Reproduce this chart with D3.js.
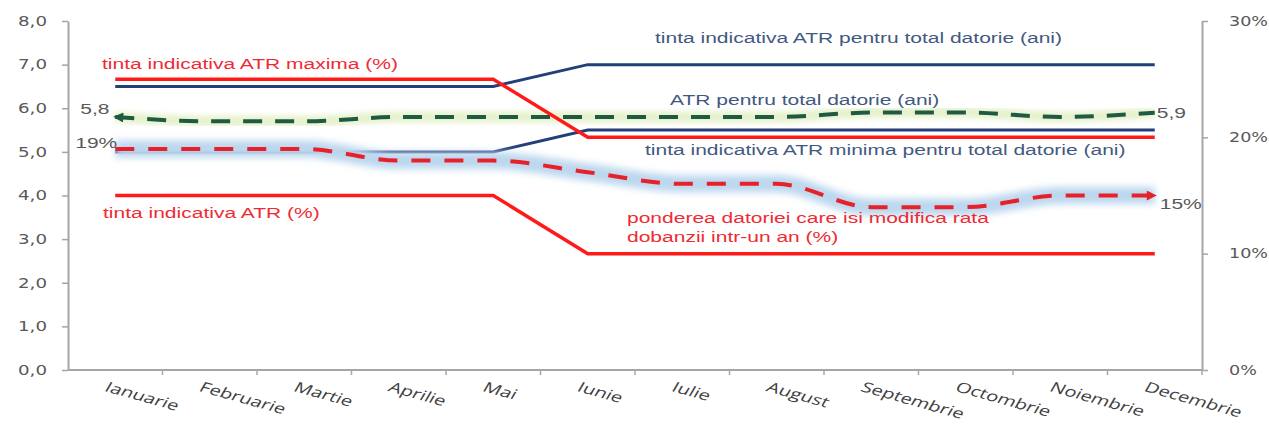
<!DOCTYPE html>
<html>
<head>
<meta charset="utf-8">
<script src="https://cdn.jsdelivr.net/npm/d3@7"></script>
<style>
  body { margin: 0; background: #fff; }
  svg { display: block; }
</style>
</head>
<body>
<svg id="chart" width="1269" height="425"></svg>
<script>
// Months on the category axis
const months = ["Ianuarie", "Februarie", "Martie", "Aprilie", "Mai", "Iunie",
                "Iulie", "August", "Septembrie", "Octombrie", "Noiembrie", "Decembrie"];

// Left axis (years) ticks and right axis (percent) ticks
const leftTicks = [0, 1, 2, 3, 4, 5, 6, 7, 8];
const rightTicks = [0, 10, 20, 30];

// Series on the left axis, in years
const tintaAtrTotal = [6.5, 6.5, 6.5, 6.5, 6.5, 7.0, 7.0, 7.0, 7.0, 7.0, 7.0, 7.0];
const tintaAtrMinTotal = [5.0, 5.0, 5.0, 5.0, 5.0, 5.5, 5.5, 5.5, 5.5, 5.5, 5.5, 5.5];
const atrTotal = [5.8, 5.7, 5.7, 5.8, 5.8, 5.8, 5.8, 5.8, 5.9, 5.9, 5.8, 5.9];

// Series on the right axis, in percent
const tintaAtrMax = [25, 25, 25, 25, 25, 20, 20, 20, 20, 20, 20, 20];
const tintaAtr = [15, 15, 15, 15, 15, 10, 10, 10, 10, 10, 10, 10];
const ponderea = [19, 19, 19, 18, 18, 17, 16, 16, 14, 14, 15, 15];

const SX = 1.5;              // horizontal text stretch
const FONT = "'Liberation Sans', Arial, sans-serif";
const AXIS_FONT = "'DejaVu Sans', Verdana, sans-serif";
const RED = "#ff1a1a";
const NAVY = "#223f78";
const GREEN = "#1f5a44";
const LABEL_RED = "#ee2b33";
const LABEL_BLUE = "#42597f";
const GREY_TXT = "#595959";
const AXIS = "#a6a6a6";

const svg = d3.select("#chart");

const x = d3.scaleBand().domain(months).range([68, 1202]);
const cx = m => x(m) + x.bandwidth() / 2;
const yL = d3.scaleLinear().domain([0, 8]).range([370, 21]);
const yR = d3.scaleLinear().domain([0, 30]).range([370, 21]);

function stretch(sel, k = SX) {
  sel.each(function () {
    const w = this.getComputedTextLength();
    this.setAttribute("textLength", w * k);
    this.setAttribute("lengthAdjust", "spacingAndGlyphs");
  });
}

const defs = svg.append("defs");
defs.append("filter").attr("id", "glow").attr("x", "-5%").attr("y", "-50%")
  .attr("width", "110%").attr("height", "200%")
  .append("feGaussianBlur").attr("stdDeviation", 3.5);
defs.append("filter").attr("id", "glowSoft").attr("x", "-5%").attr("y", "-50%")
  .attr("width", "110%").attr("height", "200%")
  .append("feGaussianBlur").attr("stdDeviation", 2.5);

function arrow(id, color) {
  defs.append("marker").attr("id", id)
    .attr("viewBox", "0 0 10 10").attr("refX", 8).attr("refY", 5)
    .attr("markerUnits", "userSpaceOnUse")
    .attr("markerWidth", 13).attr("markerHeight", 10)
    .attr("orient", "auto-start-reverse")
    .append("path").attr("d", "M0,0 L10,5 L0,10 Z").attr("fill", color);
}
arrow("arrowGreen", GREEN);
arrow("arrowRed", "#e8202a");

// Axes
const gL = svg.append("g").attr("transform", "translate(68,0)")
  .call(d3.axisLeft(yL).tickValues(leftTicks).tickSizeInner(6).tickSizeOuter(0).tickPadding(15)
    .tickFormat(d => d.toFixed(1).replace(".", ",")));
const gR = svg.append("g").attr("transform", "translate(1202,0)")
  .call(d3.axisRight(yR).tickValues(rightTicks).tickSizeInner(6).tickSizeOuter(0).tickPadding(21)
    .tickFormat(d => d + "%"));
[gL, gR].forEach(g => {
  g.select(".domain").attr("stroke", AXIS).attr("stroke-width", 2);
  g.selectAll(".tick line").attr("stroke", AXIS).attr("stroke-width", 1.5);
  g.selectAll(".tick text").attr("fill", GREY_TXT).attr("font-family", AXIS_FONT).attr("font-size", 13.5);
});
stretch(gL.selectAll(".tick text"), 1.35);
stretch(gR.selectAll(".tick text"), 1.3);

// Category axis: baseline with ticks between months
const gX = svg.append("g");
gX.append("line").attr("x1", x.range()[0]).attr("x2", x.range()[1])
  .attr("y1", yL(0)).attr("y2", yL(0)).attr("stroke", AXIS).attr("stroke-width", 2);
const bounds = months.map(m => x(m)).concat([x.range()[1]]);
gX.selectAll("line.tk").data(bounds.slice(1)).join("line").attr("class", "tk")
  .attr("x1", d => d).attr("x2", d => d).attr("y1", yL(0)).attr("y2", yL(0) + 5)
  .attr("stroke", AXIS).attr("stroke-width", 1.5);
gX.selectAll("text").data(months).join("text")
  .attr("transform", d => `translate(${cx(d) - 6},${yL(0) + 11}) scale(1.45,1) rotate(22)`)
  .attr("dy", "0.75em")
  .attr("font-family", "'Open Sans', 'Noto Sans', sans-serif")
  .attr("font-size", 14)
  .attr("fill", "#404040")
  .text(d => d);

// Line generators
const lineL = d3.line().x((d, i) => cx(months[i])).y(d => yL(d));
const lineR = d3.line().x((d, i) => cx(months[i])).y(d => yR(d));
const smoothL = d3.line().x((d, i) => cx(months[i])).y(d => yL(d)).curve(d3.curveMonotoneX);
const smoothR = d3.line().x((d, i) => cx(months[i])).y(d => yR(d)).curve(d3.curveMonotoneX);

const plot = svg.append("g").attr("fill", "none");

// Navy target lines (years)
plot.append("path").attr("d", lineL(tintaAtrTotal)).attr("stroke", NAVY).attr("stroke-width", 3);
plot.append("path").attr("d", lineL(tintaAtrMinTotal)).attr("stroke", NAVY).attr("stroke-width", 3);

// ATR total (years) — dashed with soft green glow
plot.append("path").attr("d", smoothL(atrTotal)).attr("stroke", "#e6f2cc")
  .attr("stroke-width", 11).attr("filter", "url(#glowSoft)");
plot.append("path").attr("d", smoothL(atrTotal)).attr("stroke", GREEN)
  .attr("stroke-width", 4).attr("stroke-dasharray", "19,13")
  .attr("marker-start", "url(#arrowGreen)");

// Share of debt repricing within a year (%) — dashed with blue glow
plot.append("path").attr("d", smoothR(ponderea)).attr("stroke", "#bcd7ee")
  .attr("stroke-width", 17).attr("filter", "url(#glow)");
plot.append("path").attr("d", smoothR(ponderea)).attr("stroke", "#e8202a")
  .attr("stroke-width", 4).attr("stroke-dasharray", "19,14")
  .attr("marker-end", "url(#arrowRed)");

// Red target lines (%)
plot.append("path").attr("d", lineR(tintaAtrMax)).attr("stroke", RED).attr("stroke-width", 3.5);
plot.append("path").attr("d", lineR(tintaAtr)).attr("stroke", RED).attr("stroke-width", 3.5);

// Series labels
const labels = [
  { t: "tinta indicativa ATR maxima (%)", x: 102, y: 69, c: LABEL_RED },
  { t: "tinta indicativa ATR (%)", x: 103, y: 218, c: LABEL_RED },
  { t: "tinta indicativa ATR pentru total datorie (ani)", x: 655, y: 43, c: LABEL_BLUE },
  { t: "ATR pentru total datorie (ani)", x: 670, y: 105, c: LABEL_BLUE },
  { t: "tinta indicativa ATR minima pentru total datorie (ani)", x: 645, y: 155, c: LABEL_BLUE },
  { t: "ponderea datoriei care isi modifica rata", x: 627, y: 223, c: LABEL_RED },
  { t: "dobanzii intr-un an (%)", x: 627, y: 242, c: LABEL_RED }
];
const lt = svg.append("g").selectAll("text").data(labels).join("text")
  .attr("x", d => d.x).attr("y", d => d.y).attr("fill", d => d.c)
  .attr("font-family", FONT).attr("font-size", 14).text(d => d.t);
stretch(lt);

// Value labels at the ends of the dashed series
const fmtY = v => v.toFixed(1).replace(".", ",");
const values = [
  { t: fmtY(atrTotal[0]), x: cx(months[0]) - 35, y: yL(atrTotal[0]) - 3 },
  { t: ponderea[0] + "%", x: cx(months[0]) - 40, y: yR(ponderea[0]) - 1 },
  { t: fmtY(atrTotal[11]), x: cx(months[11]) + 2, y: yL(atrTotal[11]) + 5 },
  { t: ponderea[11] + "%", x: cx(months[11]) + 5, y: yR(ponderea[11]) + 13 }
];
const vt = svg.append("g").selectAll("text").data(values).join("text")
  .attr("x", d => d.x).attr("y", d => d.y).attr("fill", GREY_TXT)
  .attr("font-family", FONT).attr("font-size", 14).text(d => d.t);
stretch(vt);
</script>
</body>
</html>
